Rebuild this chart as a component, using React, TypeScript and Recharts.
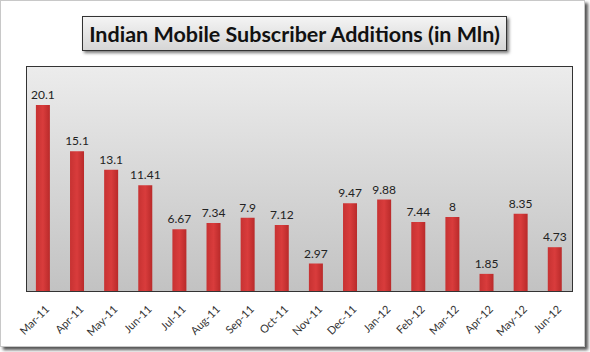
import React from 'react';
import { BarChart, Bar, XAxis, YAxis, CartesianGrid, LabelList } from 'recharts';

const months = [
  'Mar-11', 'Apr-11', 'May-11', 'Jun-11', 'Jul-11', 'Aug-11', 'Sep-11', 'Oct-11',
  'Nov-11', 'Dec-11', 'Jan-12', 'Feb-12', 'Mar-12', 'Apr-12', 'May-12', 'Jun-12',
];
const additions = [20.1, 15.1, 13.1, 11.41, 6.67, 7.34, 7.9, 7.12, 2.97, 9.47, 9.88, 7.44, 8, 1.85, 8.35, 4.73];

const data = months.map((m, i) => ({ month: m, value: additions[i] }));

const FONT = 'Lato, "Open Sans", sans-serif';

const MonthTick = (props: any) => {
  const { x, y, payload } = props;
  return (
    <text
      x={x + 7}
      y={y + 11}
      transform={`rotate(-45, ${x + 7}, ${y + 11})`}
      textAnchor="end"
      fontSize={11}
      fontFamily={FONT}
      fill="#333"
    >
      {payload.value}
    </text>
  );
};

export default function App() {
  return (
    <div style={{ position: 'absolute', left: 0, top: 0, width: 590, height: 352, background: '#fff' }}>
      {/* picture frame */}
      <div
        style={{
          position: 'absolute', left: 0, top: 0, width: 583, height: 345,
          border: '1px solid #c8c8c8', boxShadow: '3px 3px 3px #555', background: '#fff',
        }}
      />
      <BarChart
        width={590}
        height={352}
        data={data}
        margin={{ top: 66, right: 18, left: 26, bottom: 4 }}
        barCategoryGap="29%"
        style={{ position: 'absolute', left: 0, top: 0 }}
      >
        <defs>
          <linearGradient id="plotBg" x1="0" y1="0" x2="0" y2="1">
            <stop offset="0%" stopColor="#ececec" />
            <stop offset="100%" stopColor="#c2c2c2" />
          </linearGradient>
          <linearGradient id="barFill" x1="0" y1="0" x2="1" y2="0">
            <stop offset="0%" stopColor="#c73232" />
            <stop offset="50%" stopColor="#d93c3c" />
            <stop offset="100%" stopColor="#b92a2a" />
          </linearGradient>
        </defs>
        <CartesianGrid horizontal={false} vertical={false} fill="url(#plotBg)" stroke="none" />
        <XAxis
          dataKey="month"
          interval={0}
          height={57}
          axisLine={false}
          tickLine={false}
          tick={<MonthTick />}
        />
        <YAxis hide domain={[0, 24.3]} />
        <Bar dataKey="value" fill="url(#barFill)" isAnimationActive={false}>
          <LabelList
            dataKey="value"
            position="top"
            offset={6}
            fontSize={12}
            fontFamily={FONT}
            fill="#222"
          />
        </Bar>
      </BarChart>
      {/* plot area border */}
      <div
        style={{
          position: 'absolute', left: 26, top: 66, width: 545, height: 224,
          border: '1px solid #333', pointerEvents: 'none',
        }}
      />
      {/* title box */}
      <div
        style={{
          position: 'absolute', left: 82, top: 16, width: 423, height: 33,
          border: '1px solid #333',
          background: 'linear-gradient(#f4f4f4, #d6d6d6)',
          boxShadow: '2px 2px 3px #777',
          fontFamily: FONT, fontWeight: 700, fontSize: 21.5, color: '#111',
          display: 'flex', alignItems: 'center', justifyContent: 'center',
          whiteSpace: 'nowrap',
        }}
      >
        Indian Mobile Subscriber Additions (in Mln)
      </div>
    </div>
  );
}
